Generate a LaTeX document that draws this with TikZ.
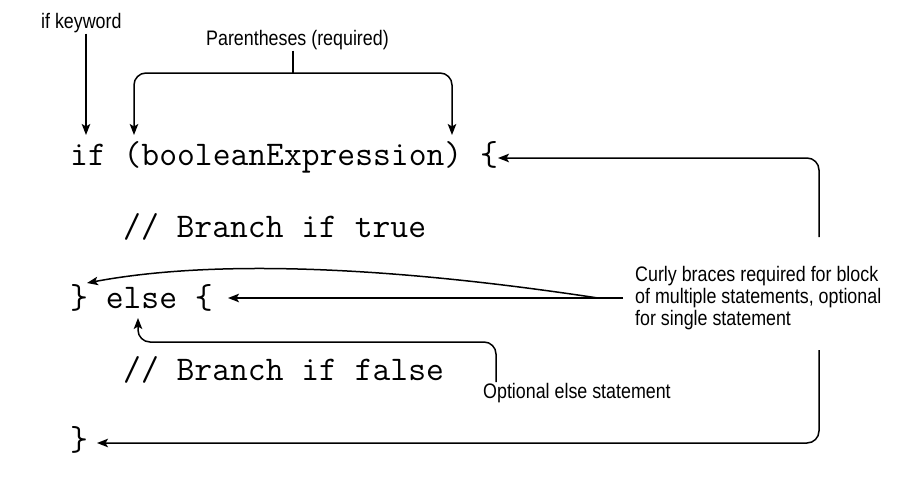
\documentclass[tikz,border=0pt]{standalone}
\usepackage{fontspec}
\newfontfamily\lblfont[FakeStretch=0.85]{Liberation Sans}
\usetikzlibrary{arrows.meta}
\begin{document}
\begin{tikzpicture}[x=1pt,y=-1pt,
  code/.style={anchor=base west,inner sep=0pt,font=\fontsize{34.6}{36}\ttfamily},
  lbl/.style={anchor=base west,inner sep=1pt,font=\fontsize{21}{22}\lblfont},
  arr/.style={line width=1.5pt,-{Stealth[length=11pt,width=8.5pt,inset=2.5pt]}},
  ln/.style={line width=1.5pt},
  rc/.style={rounded corners=12pt}]
\useasboundingbox (0,0) rectangle (921,498);
% code
\node[code] (l1) at (70,165) {if (booleanExpression) \{};
\node[code] (l2) at (123,237) {// Branch if true};
\node[code] (l3) at (70,308) {\} else \{};
\node[code] (l4) at (123,380) {// Branch if false};
\node[code] (l5) at (70,450) {\}};
% labels
\node[lbl] (kw) at (40,28) {if keyword};
\node[lbl] (par) at (205,45) {Parentheses (required)};
\node[lbl] (opt) at (482,398) {Optional else statement};
\node[lbl,anchor=west,align=left,inner sep=0pt,font=\fontsize{21}{22}\lblfont] (curly) at (635,298)
  {Curly braces required for block\\of multiple statements, optional\\for single statement};
% target coordinates
\coordinate (tIf) at (86,135);
\coordinate (tP1) at (134,135);
\coordinate (tP2) at (452,135);
\coordinate (brk) at (293,73);
\coordinate (tB1) at (498,158);
\coordinate (cTop) at (819,237);
\coordinate (cBot) at (819,350);
\coordinate (tEnd) at (97,443);
\coordinate (cFrom) at (623,298);
\coordinate (cv) at (598,298);
\coordinate (tElse) at (228,298);
\coordinate (tClose) at (87,283);
\coordinate (oStart) at (496,382);
\coordinate (oCorner) at (138,342);
\coordinate (tE2) at (138,318);
% connectors
\draw[arr] (kw.south -| tIf) -- (tIf);
\draw[ln] (par.south -| brk) -- (brk);
\draw[arr,rc] (brk) -| (tP1);
\draw[arr,rc] (brk) -| (tP2);
\draw[arr,rc] (cTop) |- (tB1);
\draw[arr,rc] (cBot) |- (tEnd);
\draw[arr] (cFrom) -- (tElse);
\draw[arr] (cv) .. controls (400,268) and (220,258) .. (tClose);
\draw[arr,rc] (oStart) |- (oCorner) -- (tE2);
\end{tikzpicture}
\end{document}
